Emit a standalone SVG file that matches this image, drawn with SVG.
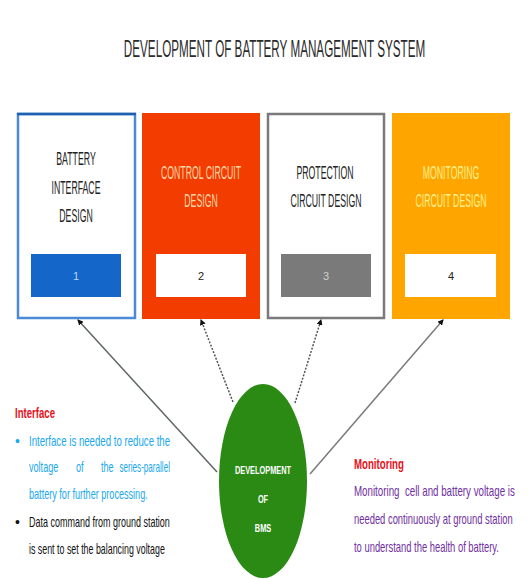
<svg xmlns="http://www.w3.org/2000/svg" width="529" height="579" viewBox="0 0 529 579">
<defs>
<style>
.t{font-family:"Liberation Sans",Arial,sans-serif;}
.title{font-size:24px;fill:#2b2b2b;text-anchor:middle;}
.lbl{font-size:19px;text-anchor:middle;}
.num{font-size:11px;text-anchor:middle;}
.body{font-size:14px;}
.head{font-size:15px;font-weight:bold;fill:#e8101a;}
.ell{font-size:11px;font-weight:bold;fill:#ffffff;text-anchor:middle;}
.blue{fill:#1aa8ee;}
.purple{fill:#7030a0;}
.conn{stroke:#6e6e6e;stroke-width:1.5;fill:none;marker-end:url(#ah);}
.dot{stroke-dasharray:2 1.5;stroke:#555;}
</style>
<marker id="ah" markerWidth="6" markerHeight="6" refX="5" refY="3" orient="auto" markerUnits="userSpaceOnUse">
<path d="M0,0 L6,3 L0,6 Z" fill="#111"/>
</marker>
</defs>
<rect width="529" height="579" fill="#ffffff"/>
<text class="t title" transform="translate(274.5,57) scale(0.487,1)">DEVELOPMENT OF BATTERY MANAGEMENT SYSTEM</text>

<g id="box1">
<rect x="18" y="114" width="117" height="204" fill="#ffffff" stroke="#4a8ad6" stroke-width="2.5"/>
<line x1="17" y1="114" x2="136" y2="114" stroke="#1f5fb0" stroke-width="2.5"/>
<text class="t lbl" fill="#222" transform="translate(76,165) scale(0.46,1)">BATTERY</text>
<text class="t lbl" fill="#222" transform="translate(76,194) scale(0.46,1)">INTERFACE</text>
<text class="t lbl" fill="#222" transform="translate(76,222) scale(0.46,1)">DESIGN</text>
<rect x="31" y="254" width="90" height="43" fill="#1466c8"/>
<text class="t num" x="76" y="280" fill="#b8d8ff">1</text>
</g>

<g id="box2">
<rect x="142" y="113" width="118" height="206" fill="#f23c00"/>
<text class="t lbl" fill="#ffd6a8" transform="translate(201,179) scale(0.46,1)">CONTROL CIRCUIT</text>
<text class="t lbl" fill="#ffd6a8" transform="translate(201,207) scale(0.46,1)">DESIGN</text>
<rect x="156" y="254" width="90" height="43" fill="#ffffff"/>
<text class="t num" x="201" y="280" fill="#222">2</text>
</g>

<g id="box3">
<rect x="268" y="114" width="116" height="204" fill="#ffffff" stroke="#7a7a7a" stroke-width="2.5"/>
<text class="t lbl" fill="#222" transform="translate(325,179) scale(0.46,1)">PROTECTION</text>
<text class="t lbl" fill="#222" transform="translate(326,207) scale(0.46,1)">CIRCUIT DESIGN</text>
<rect x="281" y="254" width="90" height="43" fill="#7a7a7a"/>
<text class="t num" x="326" y="280" fill="#cfcfcf">3</text>
</g>

<g id="box4">
<rect x="392" y="113" width="118" height="206" fill="#ffa500"/>
<text class="t lbl" fill="#fff08a" transform="translate(451,179) scale(0.46,1)">MONITORING</text>
<text class="t lbl" fill="#fff08a" transform="translate(451,207) scale(0.46,1)">CIRCUIT DESIGN</text>
<rect x="405" y="254" width="91" height="43" fill="#ffffff"/>
<text class="t num" x="451" y="280" fill="#222">4</text>
</g>

<g id="connectors">
<line class="conn" x1="217" y1="472" x2="78" y2="320" style="stroke:#5f675f"/>
<line class="conn dot" x1="233" y1="402" x2="201" y2="320"/>
<line class="conn dot" x1="295" y1="403" x2="321" y2="320"/>
<line class="conn" x1="310" y1="474" x2="443" y2="320" style="stroke:#7a7a7a"/>
</g>

<g id="bms">
<ellipse cx="263" cy="481" rx="44" ry="97" fill="#2a8a14"/>
<text class="t ell" transform="translate(263,474) scale(0.67,1)">DEVELOPMENT</text>
<text class="t ell" transform="translate(263,503) scale(0.67,1)">OF</text>
<text class="t ell" transform="translate(263,532) scale(0.67,1)">BMS</text>
</g>

<g id="interface-note">
<text class="t head" transform="translate(15,418) scale(0.64,1)">Interface</text>
<text class="t body blue" x="15" y="446">•</text>
<text class="t body blue" transform="translate(29,446) scale(0.69,1)">Interface is needed to reduce the</text>
<text class="t body blue" transform="translate(29,472) scale(0.65,1)">voltage</text>
<text class="t body blue" transform="translate(76,472) scale(0.65,1)">of</text>
<text class="t body blue" transform="translate(101,472) scale(0.65,1)">the</text>
<text class="t body blue" text-anchor="end" transform="translate(170,472) scale(0.58,1)">series-parallel</text>
<text class="t body blue" transform="translate(29,499) scale(0.65,1)">battery for further processing.</text>
<text class="t body" x="15" y="527" fill="#111">•</text>
<text class="t body" fill="#111" transform="translate(29,527) scale(0.643,1)">Data command from ground station</text>
<text class="t body" fill="#111" transform="translate(29,554) scale(0.633,1)">is sent to set the balancing voltage</text>
</g>

<g id="monitoring-note">
<text class="t head" transform="translate(354,469) scale(0.645,1)">Monitoring</text>
<text class="t body purple" transform="translate(354,496) scale(0.697,1)" xml:space="preserve">Monitoring  cell and battery voltage is</text>
<text class="t body purple" transform="translate(354,524) scale(0.672,1)">needed continuously at ground station</text>
<text class="t body purple" transform="translate(354,552) scale(0.672,1)">to understand the health of battery.</text>
</g>
</svg>
